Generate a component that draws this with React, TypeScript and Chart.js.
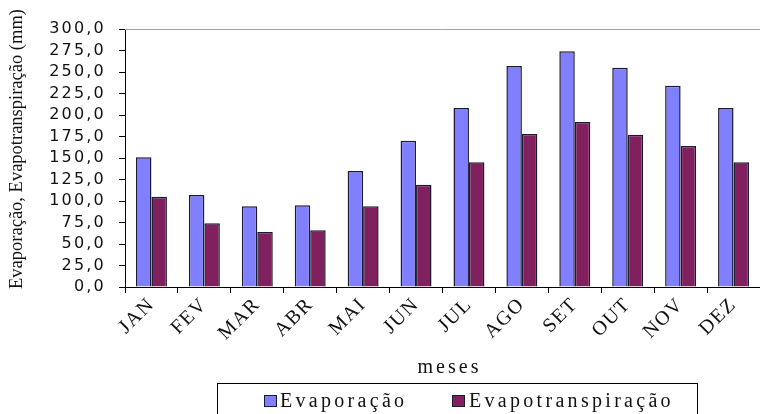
import { useEffect, useRef } from "react";
import { Chart, registerables } from "chart.js";

Chart.register(...registerables);

// Monthly values (mm)
const months = ["JAN", "FEV", "MAR", "ABR", "MAI", "JUN", "JUL", "AGO", "SET", "OUT", "NOV", "DEZ"];
const evaporacao = [151, 107, 94, 95, 135, 170, 208, 257, 274, 255, 234, 208];
const evapotranspiracao = [105, 74, 64, 66, 94, 119, 145, 178, 192, 177, 164, 145];

const yMin = 0;
const yMax = 300;
const yStep = 25;

const seriesNames = ["Evaporação", "Evapotranspiração"];
const seriesColors = ["#8080FF", "#80205F"];
const yTitle = "Evaporação, Evapotranspiração (mm)";
const xTitle = "meses";

const SERIF = '"Liberation Serif", "Times New Roman", serif';
const SANS = '"DejaVu Sans", Verdana, sans-serif';

// Letter spacing for the axis labels, plus the frame line, axis titles and boxed legend.
const decorations = {
  id: "decorations",
  beforeDraw(chart: any) {
    chart.ctx.letterSpacing = "1.5px"; // category labels
  },
  beforeDatasetsDraw(chart: any) {
    chart.ctx.letterSpacing = "0px";
  },
  afterDatasetsDraw(chart: any) {
    chart.ctx.letterSpacing = "2.2px"; // value labels (drawn in a later layer)
  },
  afterDraw(chart: any) {
    const ctx = chart.ctx as CanvasRenderingContext2D;
    const a = chart.chartArea;
    ctx.letterSpacing = "0px";

    // light top edge of the plot frame
    ctx.save();
    ctx.strokeStyle = "#a0a0a0";
    ctx.lineWidth = 1;
    ctx.beginPath();
    ctx.moveTo(a.left, a.top + 0.5);
    ctx.lineTo(a.right, a.top + 0.5);
    ctx.stroke();
    ctx.restore();

    // y axis title
    ctx.save();
    ctx.fillStyle = "#111";
    ctx.font = `18.5px ${SERIF}`;
    ctx.translate(17, 149);
    ctx.rotate(-Math.PI / 2);
    ctx.textAlign = "center";
    ctx.textBaseline = "middle";
    ctx.fillText(yTitle, 0, 0);
    ctx.restore();

    // x axis title
    ctx.save();
    ctx.fillStyle = "#111";
    ctx.font = `20px ${SERIF}`;
    (ctx as any).letterSpacing = "3px";
    ctx.textAlign = "center";
    ctx.textBaseline = "alphabetic";
    ctx.fillText(xTitle, 449.5, 373);
    ctx.restore();

    // boxed legend
    ctx.save();
    ctx.strokeStyle = "#000";
    ctx.lineWidth = 1;
    ctx.strokeRect(217.5, 383.5, 480, 60);
    const boxX = [264, 452];
    const textX = [280, 469];
    ctx.font = `20px ${SERIF}`;
    (ctx as any).letterSpacing = "3.3px";
    ctx.textAlign = "left";
    ctx.textBaseline = "alphabetic";
    chart.data.datasets.forEach((ds: any, i: number) => {
      ctx.fillStyle = ds.backgroundColor;
      ctx.fillRect(boxX[i], 395, 13, 12);
      ctx.strokeStyle = "#1a1a33";
      ctx.strokeRect(boxX[i] + 0.5, 395.5, 12, 11);
      ctx.fillStyle = "#111";
      ctx.fillText(ds.label, textX[i], 407);
    });
    ctx.restore();
    ctx.letterSpacing = "0px";
  },
};

export default function App() {
  const canvasRef = useRef<HTMLCanvasElement | null>(null);

  useEffect(() => {
    const canvas = canvasRef.current;
    if (!canvas) return;
    const chart = new Chart(canvas, {
      type: "bar",
      data: {
        labels: months,
        datasets: [
          {
            label: seriesNames[0],
            data: evaporacao,
            backgroundColor: seriesColors[0],
            borderColor: "#1a1a33",
            borderWidth: 1.5,
            categoryPercentage: 0.585,
            barPercentage: 1,
          },
          {
            label: seriesNames[1],
            data: evapotranspiracao,
            backgroundColor: seriesColors[1],
            borderColor: "#1a1a33",
            borderWidth: 1.5,
            categoryPercentage: 0.585,
            barPercentage: 1,
          },
        ],
      },
      options: {
        animation: false,
        responsive: true,
        maintainAspectRatio: false,
        layout: { padding: { top: 29, left: 0, right: 0, bottom: 0 } },
        plugins: {
          legend: { display: false },
          tooltip: { enabled: false },
          title: { display: false },
        },
        scales: {
          x: {
            offset: true,
            grid: {
              offset: true,
              drawOnChartArea: false,
              drawTicks: true,
              tickLength: 6,
              color: "#000",
            },
            border: { color: "#000", width: 1 },
            ticks: {
              minRotation: 45,
              maxRotation: 45,
              autoSkip: false,
              padding: 0,
              color: "#111",
              font: { family: SERIF, size: 20 },
            },
            afterFit: (s: any) => {
              s.height = 127;
            },
          },
          y: {
            min: yMin,
            max: yMax,
            grid: {
              drawOnChartArea: false,
              drawTicks: true,
              tickLength: 6,
              color: "#000",
            },
            border: { color: "#000", width: 1 },
            ticks: {
              stepSize: yStep,
              autoSkip: false,
              padding: 13,
              z: 1,
              color: "#111",
              font: { family: SANS, size: 16 },
              callback: (v: any) => Number(v).toFixed(1).replace(".", ","),
            },
            afterFit: (s: any) => {
              s.width = 125;
            },
          },
        },
      },
      plugins: [decorations],
    });
    return () => chart.destroy();
  }, []);

  return (
    <div style={{ position: "fixed", left: 0, top: 0, width: 760, height: 414, background: "#fff" }}>
      <canvas ref={canvasRef} />
    </div>
  );
}
